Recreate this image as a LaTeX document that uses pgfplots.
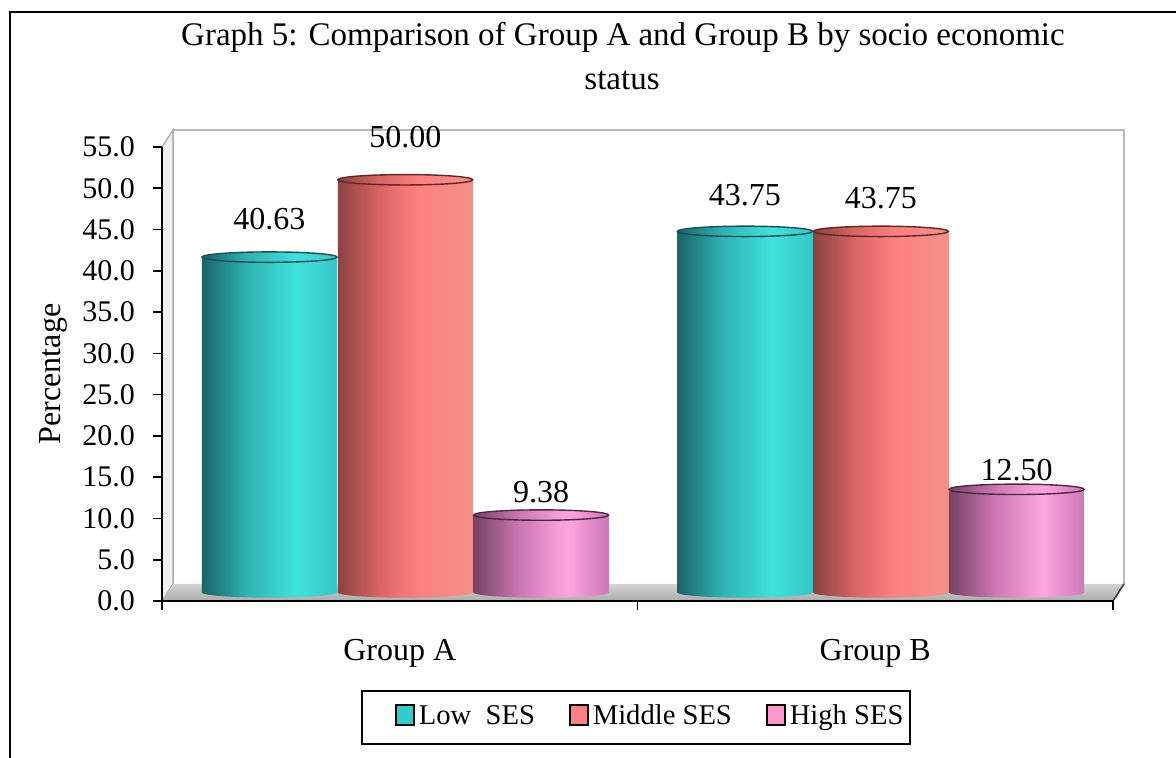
\documentclass[border=0pt]{standalone}
\usepackage{fontspec}
\setmainfont{Liberation Serif}
\usepackage{pgfplots}
\pgfplotsset{compat=1.18}
\usepackage{pgfplotstable}

% cylinder colours: left shadow, body, highlight, right edge, rim
\definecolor{lowL}{HTML}{1B6466}\definecolor{lowM}{HTML}{2FB4B4}
\definecolor{lowP}{HTML}{40E2DC}\definecolor{lowR}{HTML}{36C6C6}
\definecolor{lowRim}{HTML}{1A4E50}\definecolor{lowLeg}{HTML}{33CCCC}
\definecolor{midL}{HTML}{8A4242}\definecolor{midM}{HTML}{D86464}
\definecolor{midP}{HTML}{FF8080}\definecolor{midR}{HTML}{F29088}
\definecolor{midRim}{HTML}{5E2828}\definecolor{midLeg}{HTML}{FF8080}
\definecolor{higL}{HTML}{764264}\definecolor{higM}{HTML}{CC78B4}
\definecolor{higP}{HTML}{FFA6E2}\definecolor{higR}{HTML}{CC78B8}
\definecolor{higRim}{HTML}{4E2840}\definecolor{higLeg}{HTML}{FF99CC}

\pgfdeclarehorizontalshading{lowcyl}{100bp}{color(0bp)=(lowL); color(25bp)=(lowL);
  color(42bp)=(lowM); color(60bp)=(lowP); color(75bp)=(lowR); color(100bp)=(lowR)}
\pgfdeclarehorizontalshading{midcyl}{100bp}{color(0bp)=(midL); color(25bp)=(midL);
  color(40bp)=(midM); color(55bp)=(midP); color(75bp)=(midR); color(100bp)=(midR)}
\pgfdeclarehorizontalshading{higcyl}{100bp}{color(0bp)=(higL); color(25bp)=(higL);
  color(42bp)=(higM); color(60bp)=(higP); color(75bp)=(higR); color(100bp)=(higR)}

% elliptical cap and base of a cylinder
\newcommand\cylellipse{\pgfpathellipse{\pgfpointorigin}{\pgfpoint{33.75pt}{0pt}}{\pgfpoint{0pt}{2.6pt}}}
\newcommand\defcylmarks[2]{%
  \pgfdeclareplotmark{top-#1}{\cylellipse\pgfshadepath{#1cyl}{0}\pgfusepath{discard}%
    \cylellipse\pgfsetstrokecolor{#2}\pgfsetlinewidth{0.7pt}\pgfusepath{stroke}}%
  \pgfdeclareplotmark{bot-#1}{\cylellipse\pgfshadepath{#1cyl}{0}\pgfusepath{discard}}}
\defcylmarks{low}{lowRim}
\defcylmarks{mid}{midRim}
\defcylmarks{hig}{higRim}

\pgfplotstableread{
x    y      off
0.5  40.63  14
1.5  43.75  13
}\lowtab
\pgfplotstableread{
x    y      off
0.5  50.00  16
1.5  43.75  11.5
}\midtab
\pgfplotstableread{
x    y      off
0.5  9.38   6.5
1.5  12.50  4.5
}\higtab

\pgfplotsset{
  halfdepth/.style={xshift=2.75pt, yshift=4.25pt},
  cylbody/.style={ybar, bar width=67.5pt, draw=none, halfdepth, forget plot},
  cylcap/.style={only marks, halfdepth, forget plot,
    visualization depends on={\thisrow{off} \as \off},
    nodes near coords={\pgfmathprintnumber[fixed,fixed zerofill,precision=2,assume math mode=true]{\pgfplotspointmeta}},
    every node near coord/.append style={anchor=base, yshift=\off pt, black, inner sep=0pt}},
}

% one shaded cylinder per group: base, body, cap with its value
% #1 = series key, #2 = table, #3 = horizontal offset within the group
\newcommand\cylseries[3]{%
  \addplot[only marks, mark=bot-#1, halfdepth, xshift=#3, forget plot] table[x=x,y expr=0] {#2};
  \addplot[cylbody, bar shift=#3, shading=#1cyl] table[x=x,y=y, skip coords between index={1}{2}] {#2};
  \addplot[cylbody, bar shift=#3, shading=#1cyl] table[x=x,y=y, skip coords between index={0}{1}] {#2};
  \addplot[cylcap, mark=top-#1, xshift=#3] table[x=x,y=y] {#2};
}

\begin{document}
\fontsize{16}{19}\selectfont
\begin{tikzpicture}
\useasboundingbox (0,0) rectangle (588pt,379pt);
\fill[white] (0,0) rectangle (588pt,379pt);
\draw[line width=1.2pt] (5pt,0) -- (5pt,373pt) -- (588pt,373pt);

\begin{scope}[font=\fontsize{16.5}{19}\selectfont]
\node[anchor=base] at (311.5pt,356pt) {Graph 5: Comparison of Group A and Group B by socio economic};
\node[anchor=base] at (311pt,334pt) {status};
\end{scope}

\begin{axis}[
  at={(81pt,78.5pt)}, anchor=south west,
  scale only axis, width=475.5pt, height=227pt,
  xmin=0, xmax=2, ymin=0, ymax=55,
  clip=false, axis on top,
  axis x line*=bottom, axis y line*=left,
  axis line style={-, line width=0.8pt, black},
  tick align=outside, major tick length=4.5pt,
  tick style={black, line width=0.8pt},
  xtick={0,1,2}, xticklabels={},
  extra x ticks={0.5,1.5}, extra x tick labels={Group A,Group B},
  extra x tick style={major tick length=0pt,
    tick label style={anchor=base, yshift=-30pt}},
  ytick={0,5,...,55},
  yticklabel style={font=\fontsize{15}{18}\selectfont, xshift=-3.5pt,
    /pgf/number format/.cd, fixed, fixed zerofill, precision=1, assume math mode=true},
  ylabel={Percentage},
  every axis y label/.style={at={(axis description cs:-0.1146,0.5)}, rotate=90, anchor=center},
  legend columns=3,
  legend style={at={(axis description cs:0.2093,-0.196)}, anchor=north west,
    draw=black, line width=1pt, inner xsep=1.5pt, inner ysep=5pt,
    font=\fontsize{14.3}{17}\selectfont, cells={anchor=base west},
    /tikz/every odd column/.append style={column sep=0pt},
    /tikz/every even column/.append style={column sep=0pt}},
  legend image code/.code={\path (-15pt,0pt);
    \draw[#1, draw=black, line width=0.9pt] (0pt,0pt) rectangle (9pt,10pt);},
]
% back wall, side wall and floor of the 3-D box
\fill[white] ([shift={(5.5pt,8.5pt)}]axis cs:0,0) rectangle ([shift={(5.5pt,8.5pt)}]axis cs:2,55);
\draw[gray!55, line width=1pt] ([shift={(5.5pt,8.5pt)}]axis cs:0,0) -- ([shift={(5.5pt,8.5pt)}]axis cs:0,55)
  -- ([shift={(5.5pt,8.5pt)}]axis cs:2,55) -- ([shift={(5.5pt,8.5pt)}]axis cs:2,0);
\filldraw[fill=gray!12, draw=gray!70, line width=0.6pt] (axis cs:0,0) -- (axis cs:0,55)
  -- ([shift={(5.5pt,8.5pt)}]axis cs:0,55) -- ([shift={(5.5pt,8.5pt)}]axis cs:0,0) -- cycle;
\shade[top color=gray!35, bottom color=gray!65] (axis cs:0,0) -- (axis cs:2,0)
  -- ([shift={(5.5pt,8.5pt)}]axis cs:2,0) -- ([shift={(5.5pt,8.5pt)}]axis cs:0,0) -- cycle;
\draw[black!75, line width=0.8pt] (axis cs:2,0) -- ([shift={(5.5pt,8.5pt)}]axis cs:2,0);

\cylseries{low}{\lowtab}{-67.9pt}
\cylseries{mid}{\midtab}{0pt}
\cylseries{hig}{\higtab}{67.9pt}

\addlegendimage{fill=lowLeg}\addlegendentry{Low\ \ SES}
\addlegendimage{fill=midLeg}\addlegendentry{Middle SES}
\addlegendimage{fill=higLeg}\addlegendentry{High SES}
\end{axis}
\end{tikzpicture}
\end{document}
